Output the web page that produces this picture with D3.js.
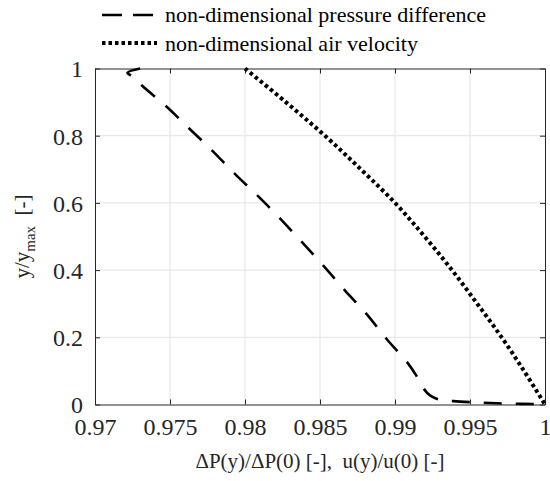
<!DOCTYPE html>
<html>
<head>
<meta charset="utf-8">
<script src="https://cdn.jsdelivr.net/npm/d3@7"></script>
</head>
<body style="margin:0">
<div id="chart"></div>
<script>
// non-dimensional pressure difference (x = dP(y)/dP(0), y = y/ymax)
const pressureX = [0.9730, 0.97216, 0.97256, 0.97311, 0.97478, 0.97627, 0.97778, 0.97929, 0.98078, 0.98233,
                   0.98522, 0.98667, 0.98811, 0.98944, 0.99089, 0.99156, 0.9920, 0.99233, 0.9930, 0.99389, 0.9950, 0.99722, 1.0];
const pressureY = [1.0, 0.987, 0.975, 0.950, 0.886, 0.822, 0.757, 0.688, 0.624, 0.554,
                   0.413, 0.339, 0.269, 0.195, 0.121, 0.076, 0.042, 0.027, 0.014, 0.010, 0.007, 0.003, 0.001];

// non-dimensional air velocity (x = u(y)/u(0), y = y/ymax)
const velocityX = [0.980, 0.98272, 0.98533, 0.98772, 0.990, 0.99197, 0.9938, 0.99548, 0.99711, 0.99860, 1.0];
const velocityY = [1.0, 0.9, 0.8, 0.7, 0.6, 0.5, 0.4, 0.3, 0.2, 0.1, 0.0];

const xTicks = [0.97, 0.975, 0.98, 0.985, 0.99, 0.995, 1];
const yTicks = [0, 0.2, 0.4, 0.6, 0.8, 1];
const legendLabels = ["non-dimensional pressure difference", "non-dimensional air velocity"];

const width = 550, height = 481;
const margin = {top: 68.5, right: 5, bottom: 76.5, left: 95};
const fontName = "Liberation Serif";
const ink = "#262626";

const svg = d3.select("#chart").append("svg")
    .attr("width", width)
    .attr("height", height)
    .attr("font-family", fontName);

const x = d3.scaleLinear().domain([0.97, 1]).range([margin.left, width - margin.right]);
const y = d3.scaleLinear().domain([0, 1]).range([height - margin.bottom, margin.top]);

// grid
svg.append("g").selectAll("line.gx")
    .data(xTicks.slice(1, -1))
    .enter().append("line")
    .attr("x1", d => x(d)).attr("x2", d => x(d))
    .attr("y1", y(0)).attr("y2", y(1))
    .attr("stroke", "#e3e3e3").attr("stroke-width", 1);

svg.append("g").selectAll("line.gy")
    .data(yTicks.slice(1, -1))
    .enter().append("line")
    .attr("x1", x(0.97)).attr("x2", x(1))
    .attr("y1", d => y(d)).attr("y2", d => y(d))
    .attr("stroke", "#e3e3e3").attr("stroke-width", 1);

// axes (ticks pointing inward, on all sides)
const fmt = d => String(+d.toFixed(3));

const xAxis = svg.append("g")
    .attr("transform", `translate(0,${y(0)})`)
    .call(d3.axisBottom(x).tickValues(xTicks).tickSizeInner(-5).tickSizeOuter(0).tickPadding(12).tickFormat(fmt));
const yAxis = svg.append("g")
    .attr("transform", `translate(${x(0.97)},0)`)
    .call(d3.axisLeft(y).tickValues(yTicks).tickSizeInner(-5).tickSizeOuter(0).tickPadding(12).tickFormat(fmt));
const xTop = svg.append("g")
    .attr("transform", `translate(0,${y(1)})`)
    .call(d3.axisTop(x).tickValues(xTicks).tickSizeInner(-5).tickSizeOuter(0).tickFormat(""));
const yRight = svg.append("g")
    .attr("transform", `translate(${x(1)},0)`)
    .call(d3.axisRight(y).tickValues(yTicks).tickSizeInner(-5).tickSizeOuter(0).tickFormat(""));

[xAxis, yAxis, xTop, yRight].forEach(a => {
    a.attr("font-family", fontName).attr("font-size", 24);
    a.selectAll("path").attr("stroke", ink).attr("stroke-width", 1);
    a.selectAll("line").attr("stroke", ink);
    a.selectAll("text")
        .attr("font-family", fontName)
        .attr("font-size", 24)
        .attr("fill", ink);
});
yAxis.selectAll("text").attr("dy", "0.35em");
xAxis.selectAll("text").attr("dy", "0.75em");

// lines
const line = d3.line().x(d => x(d[0])).y(d => y(d[1])).curve(d3.curveCatmullRom.alpha(0.5));

const pressure = pressureX.map((v, i) => [v, pressureY[i]]);
const velocity = velocityX.map((v, i) => [v, velocityY[i]]);

svg.append("path")
    .datum(pressure)
    .attr("d", line)
    .attr("fill", "none")
    .attr("stroke", "#000")
    .attr("stroke-width", 2.6)
    .attr("stroke-dasharray", "18,14");

svg.append("path")
    .datum(velocity)
    .attr("d", line)
    .attr("fill", "none")
    .attr("stroke", "#000")
    .attr("stroke-width", 4)
    .attr("stroke-dasharray", "3.5,3");

// axis labels
svg.append("text")
    .attr("x", (x(0.97) + x(1)) / 2)
    .attr("y", 468)
    .attr("text-anchor", "middle")
    .attr("font-family", fontName)
    .attr("font-size", 21)
    .attr("fill", ink)
    .text("ΔP(y)/ΔP(0) [-],\u00a0 u(y)/u(0) [-]");

const yl = svg.append("text")
    .attr("transform", `translate(29,${(y(0) + y(1)) / 2}) rotate(-90)`)
    .attr("text-anchor", "middle")
    .attr("font-family", fontName)
    .attr("font-size", 21)
    .attr("fill", ink);
yl.append("tspan").text("y/y");
yl.append("tspan").attr("dy", 6).attr("font-size", 15).text("max");
yl.append("tspan").attr("dy", -6).text("\u00a0 [-]");

// legend
const legend = svg.append("g");
legend.append("line")
    .attr("x1", 102).attr("x2", 153).attr("y1", 15).attr("y2", 15)
    .attr("stroke", "#000").attr("stroke-width", 2.6).attr("stroke-dasharray", "20,11");
legend.append("line")
    .attr("x1", 102).attr("x2", 157).attr("y1", 43).attr("y2", 43)
    .attr("stroke", "#000").attr("stroke-width", 4).attr("stroke-dasharray", "3.5,3");
legend.selectAll("text.lg")
    .data(legendLabels)
    .enter().append("text")
    .attr("x", 165)
    .attr("y", (d, i) => 22 + i * 29)
    .attr("font-family", fontName)
    .attr("font-size", 22)
    .attr("fill", "#000")
    .text(d => d);
</script>
</body>
</html>
